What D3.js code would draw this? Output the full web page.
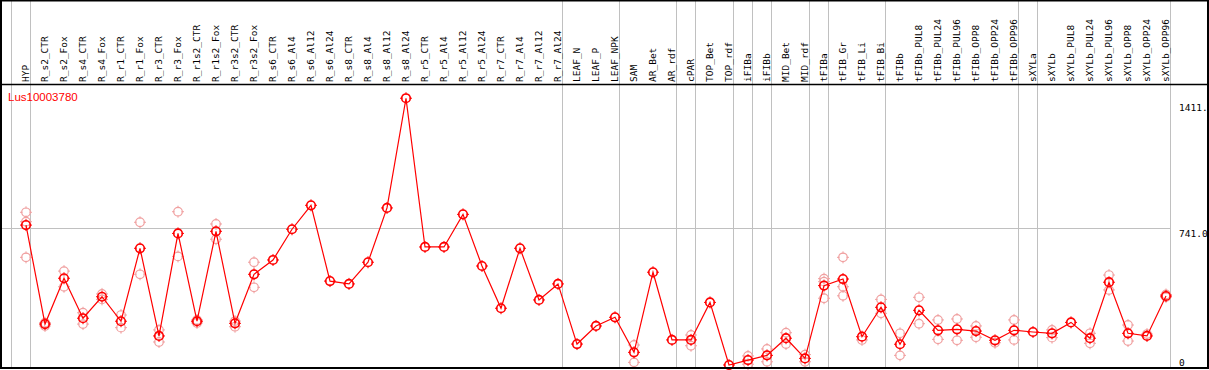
<!DOCTYPE html>
<html lang="en">
<head>
    <meta charset="UTF-8">
    <title>Lus10003780</title>
    <script src="https://d3js.org/d3.v7.min.js" charset="utf-8"></script>
    <style>
        body { margin: 0; background: #fff; }
        svg { display: block; }
    </style>
</head>
<body>
<script>
    // chart data
    var geneName = "Lus10003780";

    var categories = ["HYP",
        "R_s2_CTR", "R_s2_Fox", "R_s4_CTR", "R_s4_Fox", "R_r1_CTR", "R_r1_Fox", "R_r3_CTR", "R_r3_Fox",
        "R_r1s2_CTR", "R_r1s2_Fox", "R_r3s2_CTR", "R_r3s2_Fox",
        "R_s6_CTR", "R_s6_Al4", "R_s6_Al12", "R_s6_Al24", "R_s8_CTR", "R_s8_Al4", "R_s8_Al12", "R_s8_Al24",
        "R_r5_CTR", "R_r5_Al4", "R_r5_Al12", "R_r5_Al24", "R_r7_CTR", "R_r7_Al4", "R_r7_Al12", "R_r7_Al24",
        "LEAF_N", "LEAF_P", "LEAF_NPK", "SAM", "AR_Bet", "AR_rdf", "cPAR", "TOP_Bet", "TOP_rdf",
        "iFIBa", "iFIBb", "MID_Bet", "MID_rdf", "tFIBa", "tFIB_Gr", "tFIB_Li", "tFIB_Bi", "tFIBb",
        "tFIBb_PUL8", "tFIBb_PUL24", "tFIBb_PUL96", "tFIBb_OPP8", "tFIBb_OPP24", "tFIBb_OPP96",
        "sXYLa", "sXYLb", "sXYLb_PUL8", "sXYLb_PUL24", "sXYLb_PUL96", "sXYLb_OPP8", "sXYLb_OPP24", "sXYLb_OPP96"];

    // number of samples in each block separated by a grey line
    var groupSizes = [1, 28, 3, 3, 1, 2, 1, 1, 2, 1, 3, 7, 1, 7];

    var meanValues = [758,
        233, 476, 264, 378, 248, 635, 170, 714,
        248, 725, 237, 497,
        573, 736, 863, 461, 446, 561, 849, 1431,
        642, 642, 815, 541, 317, 635, 361, 446,
        127, 223, 269, 83, 508, 149, 149, 348, 16,
        42, 67, 158, 51, 437, 472, 166, 322, 126,
        306, 200, 205, 196, 147, 200,
        191, 184, 242, 158, 455, 184, 170, 382];

    var replicates = [[826, 776, 587],
        [240, 223], [514, 431], [293, 233], [393, 364], [281, 214], [773, 497], [202, 138], [829, 592],
        [255, 239], [764, 683], [249, 219], [561, 428],
        [], [], [], [], [], [], [], [],
        [], [], [], [], [], [], [], [],
        [], [], [], [122, 30], [], [], [175, 118], [], [],
        [64, 20], [101, 33], [187, 127], [71, 33], [474, 458, 370], [587, 431, 383], [149], [364, 290], [184, 67],
        [375, 235], [255, 152], [260, 147], [223, 163], [134], [255, 149],
        [], [202, 161], [], [184, 131], [493, 414], [228, 143], [180], [390, 376]];

    var yTicks = [0, 741, 1411];
    var yTickLabels = ["0", "741.0", "1411."];

    var width = 1209, height = 370;
    var headerY = 84.5, bottomY = 368, plotRight = 1170.5;

    var svg = d3.select("body").append("svg")
        .attr("width", width)
        .attr("height", height);

    var x = d3.scalePoint().domain(categories).range([26, 1166]);
    var step = x.step();
    var y = d3.scaleLinear().domain([0, 1411]).range([bottomY, 102]);

    // grey separators between sample groups
    var breaks = [x(categories[0]) - step + 4.5];
    var acc = 0;
    groupSizes.forEach(function (n) {
        acc += n;
        breaks.push(x(categories[acc - 1]) + 4.5);
    });
    svg.append("g").selectAll("line").data(breaks).enter()
        .append("line")
        .attr("x1", function (d) { return d; })
        .attr("x2", function (d) { return d; })
        .attr("y1", 0).attr("y2", bottomY)
        .attr("stroke", "#c0c0c0").attr("stroke-width", 1);

    // horizontal grid at the middle tick
    svg.append("line")
        .attr("x1", 1).attr("x2", plotRight)
        .attr("y1", Math.round(y(741)) + 0.5).attr("y2", Math.round(y(741)) + 0.5)
        .attr("stroke", "#c0c0c0");

    // column labels
    svg.append("g").selectAll("text").data(categories).enter()
        .append("text")
        .attr("transform", function (d) { return "translate(" + (x(d) + 3) + ",82) rotate(-90)"; })
        .style("font-family", "'DejaVu Sans Mono', monospace")
        .style("font-size", "9.5px")
        .attr("fill", "#000")
        .text(function (d) { return d; });

    // y axis labels on the right
    svg.append("g").selectAll("text").data(yTicks).enter()
        .append("text")
        .attr("x", 1179)
        .attr("y", function (d, i) { return d === 0 ? 366 : y(d) + 9; })
        .style("font-family", "'DejaVu Sans Mono', monospace")
        .style("font-size", "9.5px")
        .text(function (d, i) { return yTickLabels[i]; });

    // title
    svg.append("text")
        .attr("x", 8).attr("y", 101)
        .attr("fill", "#ff0000")
        .style("font-family", "'Liberation Sans', Arial, sans-serif")
        .style("font-size", "11.5px")
        .text(geneName);

    // marker: circle with small ticks
    function marker(g, color, sw) {
        g.append("circle").attr("r", 4.3)
            .attr("fill", "none").attr("stroke", color).attr("stroke-width", sw);
        g.append("path")
            .attr("d", "M0,-6V-3.5M0,3.5V6M-6,0H-3.5M3.5,0H6")
            .attr("stroke", color).attr("stroke-width", 1);
    }

    // replicate points
    var repPts = [];
    replicates.forEach(function (arr, i) {
        arr.forEach(function (v) { repPts.push({c: categories[i], v: v}); });
    });
    svg.append("g").selectAll("g").data(repPts).enter()
        .append("g")
        .attr("transform", function (d) { return "translate(" + x(d.c) + "," + y(d.v) + ")"; })
        .each(function () { marker(d3.select(this), "#f0a0a0", 1.2); });

    // mean line
    var line = d3.line()
        .x(function (d, i) { return x(categories[i]); })
        .y(function (d) { return y(d); });
    svg.append("path")
        .datum(meanValues)
        .attr("d", line)
        .attr("fill", "none")
        .attr("stroke", "#ff0000")
        .attr("stroke-width", 1.2);

    svg.append("g").selectAll("g").data(meanValues).enter()
        .append("g")
        .attr("transform", function (d, i) { return "translate(" + x(categories[i]) + "," + y(d) + ")"; })
        .each(function () { marker(d3.select(this), "#ff0000", 1.6); });

    // frame
    svg.append("rect")
        .attr("x", 1).attr("y", 0.5).attr("width", 1207).attr("height", bottomY - 0.5)
        .attr("fill", "none").attr("stroke", "#000").attr("stroke-width", 2);
    svg.append("line")
        .attr("x1", 1).attr("x2", 1208).attr("y1", headerY).attr("y2", headerY)
        .attr("stroke", "#000").attr("stroke-width", 1.5);
</script>
</body>
</html>
